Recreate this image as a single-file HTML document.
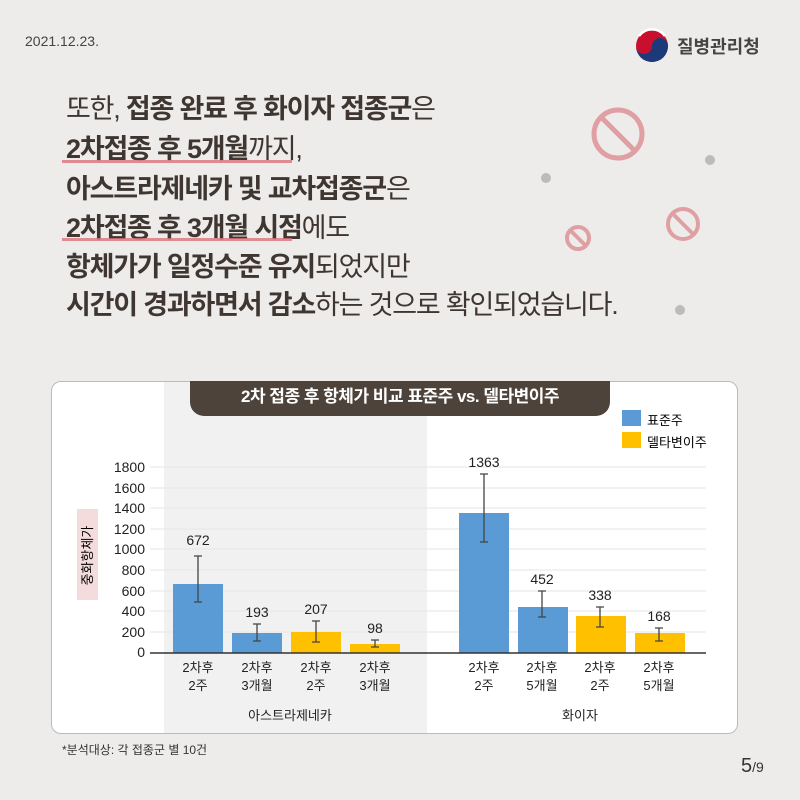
<!DOCTYPE html>
<html><head><meta charset="utf-8"><style>
body{margin:0;width:800px;height:800px;background:#edeceb;font-family:"Liberation Sans","Noto Sans CJK KR",sans-serif;position:relative;overflow:hidden}
.a{position:absolute}
.h{left:66px;font-size:27px;color:#3f3631;letter-spacing:-1.2px;font-weight:bold;white-space:nowrap;line-height:30px}
.h span{font-weight:normal}
.ul{position:absolute;height:3px;background:#d9737a;opacity:.8}
</style></head><body>
<div class="a" style="left:25px;top:33px;font-size:14px;color:#444">2021.12.23.</div>
<svg class="a" style="left:634px;top:28px" width="36" height="36" viewBox="0 0 36 36"><circle cx="18" cy="18" r="16" fill="#c8102e"/><path d="M2 18a16 16 0 0 0 32 0a8 8 0 0 0-16 0a8 8 0 0 1-16 0z" fill="#1c3a7a"/><path d="M5 8a16 16 0 0 1 26 0" fill="none" stroke="#fff" stroke-width="2.5"/></svg>
<div class="a" style="left:677px;top:33px;font-size:18px;font-weight:bold;color:#444">질병관리청</div>
<div class="a h" style="top:94px"><span>또한, </span>접종 완료 후 화이자 접종군<span>은</span></div>
<div class="a h" style="top:134px">2차접종 후 5개월<span>까지,</span></div>
<div class="ul" style="left:62px;top:160px;width:230px"></div>
<div class="a h" style="top:174px">아스트라제네카 및 교차접종군<span>은</span></div>
<div class="a h" style="top:213px">2차접종 후 3개월 시점<span>에도</span></div>
<div class="ul" style="left:62px;top:238px;width:230px"></div>
<div class="a h" style="top:252px">항체가가 일정수준 유지<span>되었지만</span></div>
<div class="a h" style="top:290px">시간이 경과하면서 감소<span>하는 것으로 확인되었습니다.</span></div>
<svg class="a" style="left:540px;top:90px" width="180" height="240">
<g fill="none" stroke="#e0a0a3" stroke-width="5"><circle cx="78" cy="44" r="24"/><line x1="62" y1="28" x2="94" y2="60"/><circle cx="38" cy="148" r="11" stroke-width="4"/><line x1="30" y1="140" x2="46" y2="156" stroke-width="4"/><circle cx="143" cy="134" r="15" stroke-width="4"/><line x1="133" y1="124" x2="153" y2="144" stroke-width="4"/></g>
<g fill="#bbb"><circle cx="6" cy="88" r="5"/><circle cx="170" cy="70" r="5"/><circle cx="140" cy="220" r="5"/></g></svg>
<div class="a" style="left:51px;top:381px;width:685px;height:351px;background:#fff;border:1px solid #bbb;border-radius:10px;overflow:hidden">
 <div class="a" style="left:112px;top:0;width:263px;height:351px;background:#f1f1f1"></div>
</div>
<div class="a" style="left:190px;top:381px;width:420px;height:35px;background:#4e433b;border-radius:0 0 14px 14px;color:#fff;font-size:17px;font-weight:bold;text-align:center;line-height:32px;letter-spacing:-0.5px">2차 접종 후 항체가 비교 표준주 vs. 델타변이주</div>
<div class="a" style="left:622px;top:410px;width:19px;height:16px;background:#5b9bd5"></div>
<div class="a" style="left:647px;top:410px;font-size:13px">표준주</div>
<div class="a" style="left:622px;top:432px;width:19px;height:16px;background:#ffc000"></div>
<div class="a" style="left:647px;top:432px;font-size:13px">델타변이주</div>
<div class="a" style="left:77px;top:509px;width:21px;height:91px;background:#f5dcdc"></div>
<div class="a" style="left:77px;top:555px;font-size:13px;transform:translate(0,-50%) rotate(-90deg);transform-origin:center;width:21px;text-align:center;white-space:nowrap;line-height:21px"><div style="width:80px;margin-left:-30px">중화항체가</div></div>
<svg class="a" style="left:0;top:0" width="800" height="800" font-family="Liberation Sans" font-size="14">
<g stroke="#e6e6e6"><line x1="150" y1="467" x2="706" y2="467"/><line x1="150" y1="488" x2="706" y2="488"/><line x1="150" y1="508" x2="706" y2="508"/><line x1="150" y1="529" x2="706" y2="529"/><line x1="150" y1="549" x2="706" y2="549"/><line x1="150" y1="570" x2="706" y2="570"/><line x1="150" y1="591" x2="706" y2="591"/><line x1="150" y1="611" x2="706" y2="611"/><line x1="150" y1="632" x2="706" y2="632"/></g>
<g text-anchor="end" fill="#222"><text x="145" y="472">1800</text><text x="145" y="493">1600</text><text x="145" y="513">1400</text><text x="145" y="534">1200</text><text x="145" y="554">1000</text><text x="145" y="575">800</text><text x="145" y="596">600</text><text x="145" y="616">400</text><text x="145" y="637">200</text><text x="145" y="657">0</text></g>
<g fill="#5b9bd5"><rect x="173" y="584" width="50" height="69"/><rect x="232" y="633" width="50" height="20"/><rect x="459" y="513" width="50" height="140"/><rect x="518" y="607" width="50" height="46"/></g>
<g fill="#ffc000"><rect x="291" y="632" width="50" height="21"/><rect x="350" y="644" width="50" height="9"/><rect x="576" y="616" width="50" height="37"/><rect x="635" y="633" width="50" height="20"/></g>
<line x1="150" y1="653" x2="706" y2="653" stroke="#333" stroke-width="1.5"/>
<g stroke="#444" stroke-width="1.3"><path d="M198 556V602M194 556H202M194 602H202"/><path d="M257 624V641M253 624H261M253 641H261"/><path d="M316 621V642M312 621H320M312 642H320"/><path d="M375 640V647M371 640H379M371 647H379"/><path d="M484 474V542M480 474H488M480 542H488"/><path d="M542 591V617M538 591H546M538 617H546"/><path d="M600 607V627M596 607H604M596 627H604"/><path d="M659 628V641M655 628H663M655 641H663"/></g>
<g text-anchor="middle" fill="#222"><text x="198" y="545">672</text><text x="257" y="617">193</text><text x="316" y="614">207</text><text x="375" y="633">98</text><text x="484" y="467">1363</text><text x="542" y="584">452</text><text x="600" y="600">338</text><text x="659" y="621">168</text>
<g font-size="13"><text x="198" y="672">2차후</text><text x="198" y="690">2주</text><text x="257" y="672">2차후</text><text x="257" y="690">3개월</text><text x="316" y="672">2차후</text><text x="316" y="690">2주</text><text x="375" y="672">2차후</text><text x="375" y="690">3개월</text><text x="484" y="672">2차후</text><text x="484" y="690">2주</text><text x="542" y="672">2차후</text><text x="542" y="690">5개월</text><text x="600" y="672">2차후</text><text x="600" y="690">2주</text><text x="659" y="672">2차후</text><text x="659" y="690">5개월</text><text x="290" y="720">아스트라제네카</text><text x="580" y="720">화이자</text></g></g>
</svg>
<div class="a" style="left:62px;top:741px;font-size:12px;color:#333">*분석대상: 각 접종군 별 10건</div>
<div class="a" style="left:741px;top:755px;font-size:20px;color:#333">5<span style="font-size:14px">/9</span></div>
</body></html>
